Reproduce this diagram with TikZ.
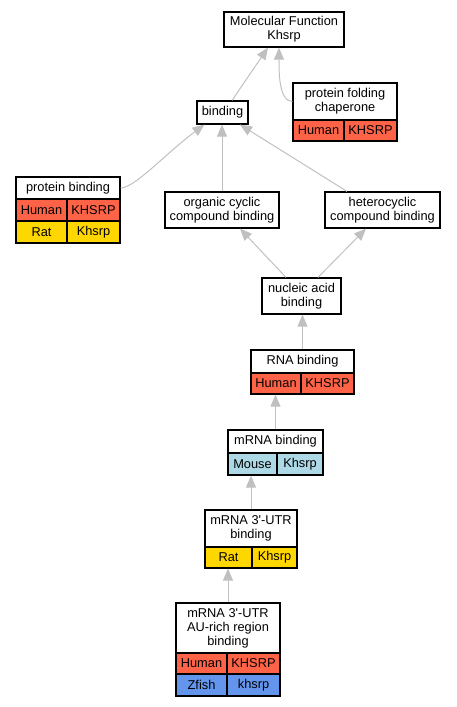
\documentclass[tikz,border=0pt]{standalone}
\usepackage{fontspec}
\setmainfont{Liberation Sans}
\usetikzlibrary{arrows.meta}
\definecolor{tom}{HTML}{FF6347}
\definecolor{gld}{HTML}{FFD700}
\definecolor{lblu}{HTML}{ADD8E6}
\definecolor{cblu}{HTML}{6495ED}
\definecolor{edgec}{HTML}{C0C0C0}
\newcommand{\gofs}{\fontsize{12.8}{14}\selectfont}
\begin{document}
\begin{tikzpicture}[x=1pt,y=-1pt,
  gobox/.style={draw=black, line width=1.2pt, fill=white, inner sep=0pt, align=center, font=\gofs},
  cell/.style={gobox, fill=#1},
  edge/.style={draw=edgec, line width=1pt, -{Triangle[length=12pt,width=10pt]}}]
\useasboundingbox (0,0) rectangle (456,707);
% Molecular Function
\node[gobox, minimum width=120pt, minimum height=35pt] (mf) at (284,29.5) {Molecular Function\\Khsrp};
% binding
\node[gobox, minimum width=51pt, minimum height=23pt] (bind) at (222.5,112.5) {binding};
% protein folding chaperone
\node[gobox, minimum width=104pt, minimum height=37pt] (pfc) at (345,101.5) {protein folding\\chaperone};
\node[cell=tom, minimum width=51pt, minimum height=21pt] (pfcH) at (318.5,130.5) {Human};
\node[cell=tom, minimum width=53pt, minimum height=21pt] (pfcK) at (370.5,130.5) {KHSRP};
% protein binding
\node[gobox, minimum width=104pt, minimum height=22pt] (pb) at (68,188) {protein binding};
\node[cell=tom, minimum width=51pt, minimum height=22pt] (pbH) at (41.5,210) {Human};
\node[cell=tom, minimum width=53pt, minimum height=22pt] (pbK) at (93.5,210) {KHSRP};
\node[cell=gld, minimum width=51pt, minimum height=22pt] (pbR) at (41.5,232) {Rat};
\node[cell=gld, minimum width=53pt, minimum height=22pt] (pbk) at (93.5,232) {Khsrp};
% organic cyclic compound binding
\node[gobox, minimum width=114pt, minimum height=36pt] (occ) at (222,210) {organic cyclic\\compound binding};
% heterocyclic compound binding
\node[gobox, minimum width=115pt, minimum height=36pt] (hcb) at (382.5,210) {heterocyclic\\compound binding};
% nucleic acid binding
\node[gobox, minimum width=79pt, minimum height=36pt] (nab) at (301.5,296) {nucleic acid\\binding};
% RNA binding
\node[gobox, minimum width=103pt, minimum height=23pt] (rna) at (302.5,361.5) {RNA binding};
\node[cell=tom, minimum width=50pt, minimum height=21pt] (rnaH) at (276,383.5) {Human};
\node[cell=tom, minimum width=53pt, minimum height=21pt] (rnaK) at (327.5,383.5) {KHSRP};
% mRNA binding
\node[gobox, minimum width=95pt, minimum height=23pt] (mrna) at (275.5,441.5) {mRNA binding};
\node[cell=lblu, minimum width=49pt, minimum height=22pt] (mrnaM) at (252.5,464) {Mouse};
\node[cell=lblu, minimum width=46pt, minimum height=22pt] (mrnaK) at (300,464) {Khsrp};
% mRNA 3'-UTR binding
\node[gobox, minimum width=92pt, minimum height=37pt] (utr) at (251,528.5) {mRNA 3\textquotesingle-UTR\\binding};
\node[cell=gld, minimum width=47pt, minimum height=21pt] (utrR) at (228.5,557.5) {Rat};
\node[cell=gld, minimum width=45pt, minimum height=21pt] (utrK) at (274.5,557.5) {Khsrp};
% mRNA 3'-UTR AU-rich region binding
\node[gobox, minimum width=104pt, minimum height=50pt] (au) at (228,628) {mRNA 3\textquotesingle-UTR\\AU-rich region\\binding};
\node[cell=tom, minimum width=51pt, minimum height=21pt] (auH) at (201.5,663.5) {Human};
\node[cell=tom, minimum width=53pt, minimum height=21pt] (auK) at (253.5,663.5) {KHSRP};
\node[cell=cblu, minimum width=51pt, minimum height=22pt] (auZ) at (201.5,685) {Zfish};
\node[cell=cblu, minimum width=53pt, minimum height=22pt] (auk) at (253.5,685) {khsrp};
% edges
\draw[edge] ([xshift=9.5pt]bind.north) -- ([xshift=-16pt]mf.south);
\draw[edge] (pfc.west) .. controls +(-14,0) and +(0,22) .. ([xshift=-5pt]mf.south);
\draw[edge] (pb.east) .. controls +(14,0) and +(-40,30) .. ([xshift=8pt]bind.south west);
\draw[edge] (occ.north) -- (occ.north |- bind.south);
\draw[edge] ([xshift=-35.5pt]hcb.north) -- ([xshift=17.5pt]bind.south);
\draw[edge] ([xshift=-15.5pt]nab.north) -- ([xshift=18pt]occ.south);
\draw[edge] ([xshift=16.5pt]nab.north) -- ([xshift=-16.5pt]hcb.south);
\draw[edge] (rna.north) -- (rna.north |- nab.south);
\draw[edge] (mrna.north) -- (mrna.north |- rnaK.south);
\draw[edge] (utr.north) -- (utr.north |- mrnaM.south);
\draw[edge] (au.north) -- (au.north |- utrR.south);
\end{tikzpicture}
\end{document}
